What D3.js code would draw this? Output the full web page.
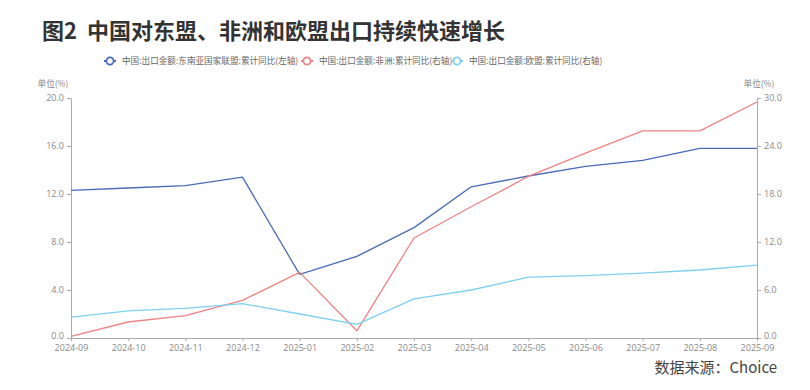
<!DOCTYPE html>
<html><head><meta charset="utf-8">
<script src="https://cdn.jsdelivr.net/npm/d3@7/dist/d3.min.js"></script>
<style>
html,body{margin:0;padding:0;background:#fff;}
svg{display:block;font-family:"Noto Sans CJK SC","Noto Sans",sans-serif;}
</style></head>
<body><svg id="c" width="810" height="390"></svg>
<script>
const months = ["2024-09","2024-10","2024-11","2024-12","2025-01","2025-02","2025-03","2025-04","2025-05","2025-06","2025-07","2025-08","2025-09"];
const aseanValues = [12.3,12.5,12.7,13.4,5.3,6.8,9.2,12.6,13.5,14.3,14.8,15.8,15.8];
const africaValues = [0.2,2.0,2.8,4.7,8.2,0.9,12.5,16.4,20.2,23.1,25.9,25.9,29.5];
const euValues = [2.6,3.4,3.7,4.3,3.0,1.7,4.9,6.0,7.6,7.8,8.1,8.5,9.1];
const leftTicks = [0,4,8,12,16,20];
const rightTicks = [0,6,12,18,24,30];
const seriesNames = ["中国:出口金额:东南亚国家联盟:累计同比(左轴)","中国:出口金额:非洲:累计同比(右轴)","中国:出口金额:欧盟:累计同比(右轴)"];
const colors = ["#4a6bb6","#ee8285","#7dd0ef"];
const titleText = "图2  中国对东盟、非洲和欧盟出口持续快速增长";
const sourceText = "数据来源：Choice";

const svg = d3.select("#c");
const L = 71, R = 757, T = 98, B = 338;
const x = d3.scalePoint().domain(months).range([L, R]);
const yL = d3.scaleLinear().domain([0,20]).range([B, T]);
const yR = d3.scaleLinear().domain([0,30]).range([B, T]);

svg.append("text").attr("x", 42).attr("y", 39).attr("font-size", 22).attr("font-weight", "bold")
  .attr("fill", "#333").style("white-space","pre").attr("xml:space","preserve").text(titleText);

// legend
const legX = [110, 307, 457];
seriesNames.forEach((n, i) => {
  const g = svg.append("g").attr("transform", `translate(${legX[i]},61)`);
  g.append("line").attr("x1", -6).attr("x2", 6).attr("stroke", colors[i]).attr("stroke-width", 2);
  g.append("circle").attr("r", 3.6).attr("fill", "#fff").attr("stroke", colors[i]).attr("stroke-width", 1.8);
  g.append("text").attr("x", 12).attr("y", 3).attr("font-size", 8.6).attr("fill", "#666").text(n);
});

function styleAxis(g){
  g.selectAll(".domain").attr("stroke", "#aaa");
  g.selectAll(".tick line").attr("stroke", "#aaa");
  g.selectAll(".tick text").attr("fill", "#888").attr("font-size", 9)
    .attr("font-family", '"Open Sans","Noto Sans",sans-serif');
}
const gl = svg.append("g").attr("transform", `translate(${L},0)`)
  .call(d3.axisLeft(yL).tickValues(leftTicks).tickFormat(d3.format(".1f")).tickSize(4).tickSizeOuter(0).tickPadding(3));
styleAxis(gl);
gl.selectAll(".tick text").filter(d => d === 0).attr("dy", "0.05em");
const gr = svg.append("g").attr("transform", `translate(${R},0)`)
  .call(d3.axisRight(yR).tickValues(rightTicks).tickFormat(d3.format(".1f")).tickSize(4).tickSizeOuter(0).tickPadding(3));
styleAxis(gr);
gr.selectAll(".tick text").filter(d => d === 0).attr("dy", "0.05em");
const gx = svg.append("g").attr("transform", `translate(0,${B})`)
  .call(d3.axisBottom(x).tickSize(3).tickSizeOuter(0).tickPadding(4));
styleAxis(gx);

svg.append("text").attr("x", 53).attr("y", 87).attr("text-anchor","middle").attr("font-size", 8.6).attr("fill", "#888").text("单位(%)");
svg.append("text").attr("x", 759).attr("y", 87).attr("text-anchor","middle").attr("font-size", 8.6).attr("fill", "#888").text("单位(%)");

const data = [[aseanValues, yL],[africaValues, yR],[euValues, yR]];
data.forEach(([vals, ys], i) => {
  const line = d3.line().x((d, j) => x(months[j])).y(d => ys(d));
  svg.append("path").datum(vals).attr("d", line).attr("fill", "none")
    .attr("stroke", colors[i]).attr("stroke-width", 1.3).attr("stroke-linejoin","round");
});

svg.append("text").attr("x", 777).attr("y", 373).attr("text-anchor", "end").attr("font-size", 15)
  .attr("fill", "#444").text(sourceText);
</script></body></html>
